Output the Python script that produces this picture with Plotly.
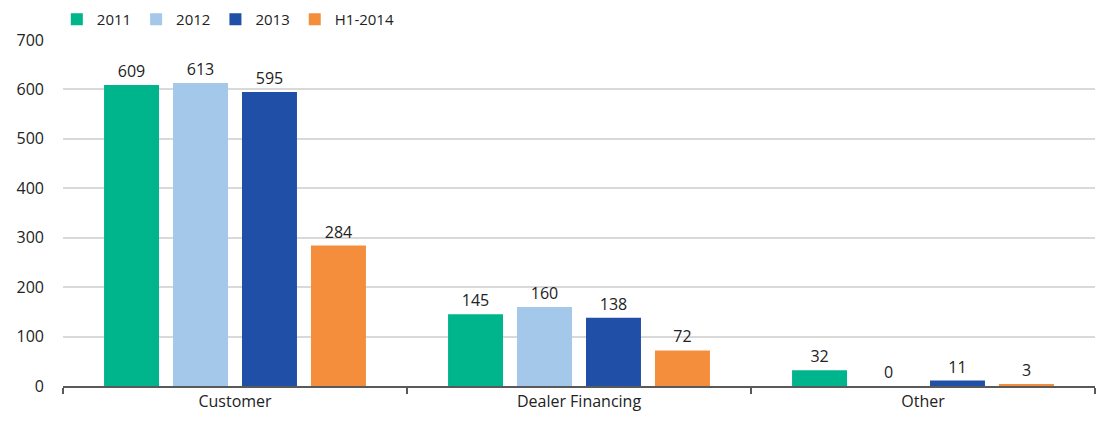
import plotly.graph_objects as go

categories = ["Customer", "Dealer Financing", "Other"]
series_names = ["2011", "2012", "2013", "H1-2014"]
v2011 = [609, 145, 32]
v2012 = [613, 160, 0]
v2013 = [595, 138, 11]
vH1_2014 = [284, 72, 3]
values = [v2011, v2012, v2013, vH1_2014]
colors = ["#00B48C", "#A3C8EA", "#1F4FA6", "#F58E3C"]
y_ticks = [0, 100, 200, 300, 400, 500, 600, 700]

fig = go.Figure()
for name, vals, c in zip(series_names, values, colors):
    fig.add_trace(go.Bar(
        x=categories, y=vals, name=name, marker_color=c,
        marker_line_width=0,
        text=[str(v) for v in vals], textposition="outside",
        textfont=dict(size=16, color="#222222"),
        outsidetextfont=dict(size=16, color="#222222"),
        cliponaxis=False,
    ))

# page body has an 8px margin, so the figure is sized to fit the window
fig.update_layout(
    width=1098, height=413,
    margin=dict(l=55, r=11, t=32, b=35, autoexpand=False),
    paper_bgcolor="white", plot_bgcolor="white",
    font=dict(family="Open Sans, Noto Sans, sans-serif", size=16, color="#222222"),
    barmode="group", bargap=0.198, bargroupgap=0.203,
    legend=dict(orientation="h", x=-0.006, xref="paper", y=1.1069, yref="paper",
                xanchor="left", yanchor="top",
                font=dict(size=15), itemwidth=30, tracegroupgap=0,
                bgcolor="rgba(0,0,0,0)"),
)
fig.update_yaxes(range=[0, 700], tickvals=y_ticks, showgrid=True, gridcolor="#D9D9D9",
                 gridwidth=1.5, zeroline=False, showline=False, ticks="",
                 ticklabelstandoff=18, tickfont=dict(size=16), automargin=False)
fig.update_xaxes(showline=True, linecolor="#595959", linewidth=1.5,
                 ticks="outside", tickson="boundaries", ticklen=6, tickcolor="#595959",
                 tickwidth=1.5, tickfont=dict(size=16), automargin=False)

fig.write_html("out.html")
